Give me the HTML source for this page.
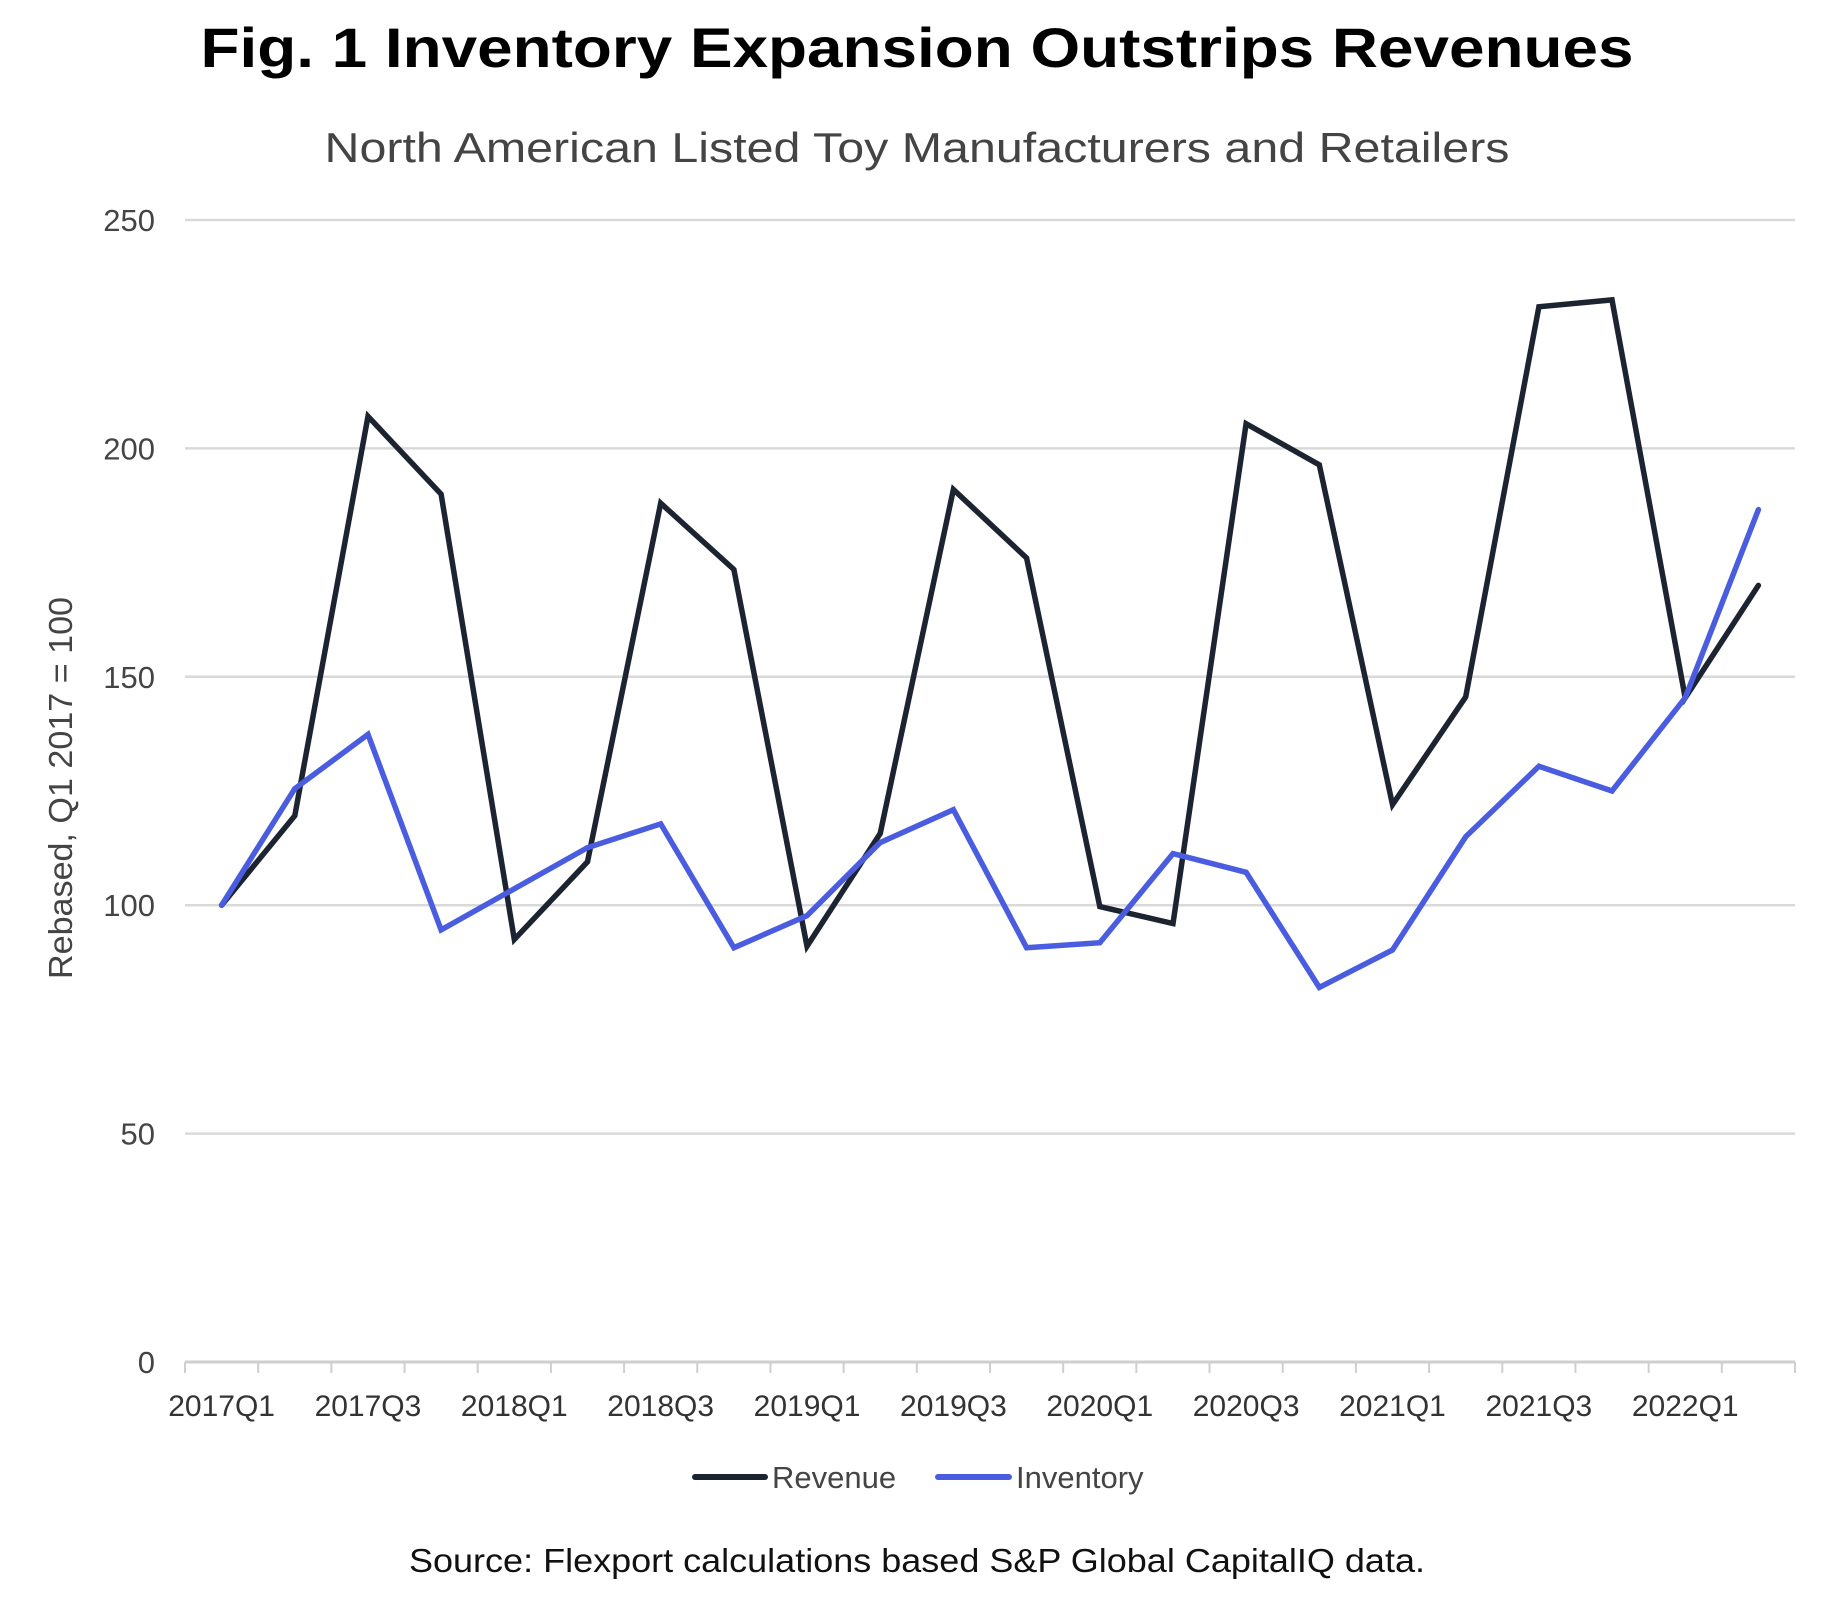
<!DOCTYPE html>
<html><head><meta charset="utf-8"><style>
html,body{margin:0;padding:0;background:#fff;}
svg{display:block;font-family:"Liberation Sans",sans-serif;}
</style></head><body>
<svg id="chart" width="1845" height="1597" viewBox="0 0 1845 1597">
<text x="917" y="67" text-anchor="middle" font-size="56" font-weight="bold" fill="#000" textLength="1433" lengthAdjust="spacingAndGlyphs">Fig. 1 Inventory Expansion Outstrips Revenues</text>
<text x="917" y="162" text-anchor="middle" font-size="42" fill="#444" textLength="1185" lengthAdjust="spacingAndGlyphs">North American Listed Toy Manufacturers and Retailers</text>
<g id="grid"></g>
<g id="axes"></g>
<g id="series"></g>
<text transform="translate(72,788) rotate(-90)" text-anchor="middle" font-size="33" fill="#444" textLength="382" lengthAdjust="spacingAndGlyphs">Rebased, Q1 2017 = 100</text>
<g>
<line x1="695" y1="1477" x2="765" y2="1477" stroke="#1c2331" stroke-width="6" stroke-linecap="round"/>
<text x="772" y="1488" font-size="31" fill="#444">Revenue</text>
<line x1="938" y1="1477" x2="1009" y2="1477" stroke="#4a5de0" stroke-width="6" stroke-linecap="round"/>
<text x="1016" y="1488" font-size="31" fill="#444">Inventory</text>
</g>
<text x="917" y="1572" text-anchor="middle" font-size="33" fill="#111" textLength="1016" lengthAdjust="spacingAndGlyphs">Source: Flexport calculations based S&amp;P Global CapitalIQ data.</text>
</svg>
<script>
const categories = ["2017Q1","2017Q2","2017Q3","2017Q4","2018Q1","2018Q2","2018Q3","2018Q4","2019Q1","2019Q2","2019Q3","2019Q4","2020Q1","2020Q2","2020Q3","2020Q4","2021Q1","2021Q2","2021Q3","2021Q4","2022Q1","2022Q2"];
const revenue = [100,119.6,207,190,92.5,109.5,188,173.5,91,115.7,191,176,99.7,96,205.4,196.4,122,145.6,231,232.5,145.4,170];
const inventory = [100,125.5,137.4,94.6,103.6,112.6,117.8,90.7,97.7,113.7,120.9,90.7,91.8,111.3,107.2,82,90.2,115,130.4,125,145.4,186.6];
const yTicks = [0,50,100,150,200,250];

const NS = "http://www.w3.org/2000/svg";
const X0 = 185, X1 = 1795, Y0 = 1362, Y250 = 220;
const bw = (X1 - X0) / categories.length;
function xPos(i){ return X0 + bw * (i + 0.5); }
function yPos(v){ return Y0 - (v / 250) * (Y0 - Y250); }
function mk(tag, attrs, parent){ const e = document.createElementNS(NS, tag); for (const k in attrs) e.setAttribute(k, attrs[k]); parent.appendChild(e); return e; }

const grid = document.getElementById('grid');
yTicks.forEach(v => {
  const l = mk('line', {x1:X0, x2:X1, y1:yPos(v), y2:yPos(v), stroke: v===0?'#cfcfcf':'#d9d9d9', 'stroke-width': v===0?3:2.5}, grid);
  
  
  const t = mk('text', {x:155, y:yPos(v)+11, 'text-anchor':'end', 'font-size':31, fill:'#444'}, grid);
  t.textContent = v;
  
  
});

const axes = document.getElementById('axes');
for (let i = 0; i <= categories.length; i++) {
  const x = X0 + bw * i;
  const tk = mk('line', {x1:x, x2:x, y1:Y0, y2:Y0+11, stroke:'#cfcfcf', 'stroke-width':2}, axes);
  
  
}
categories.forEach((c, i) => {
  if (i % 2 !== 0) return;
  const t = mk('text', {x:xPos(i), y:1416, 'text-anchor':'middle', 'font-size':30, fill:'#333'}, axes);
  t.textContent = c;
  
  
});

const series = document.getElementById('series');
function drawLine(vals, color, name){
  const pts = vals.map((v, i) => xPos(i).toFixed(1) + ',' + yPos(v).toFixed(1)).join(' ');
  const p = mk('polyline', {points:pts, fill:'none', stroke:color, 'stroke-width':5.5, 'stroke-linejoin':'miter', 'stroke-linecap':'round'}, series);
  
  
}
drawLine(revenue, '#1c2331', 'revenue-line');
drawLine(inventory, '#4a5de0', 'inventory-line');
</script>
</body></html>
